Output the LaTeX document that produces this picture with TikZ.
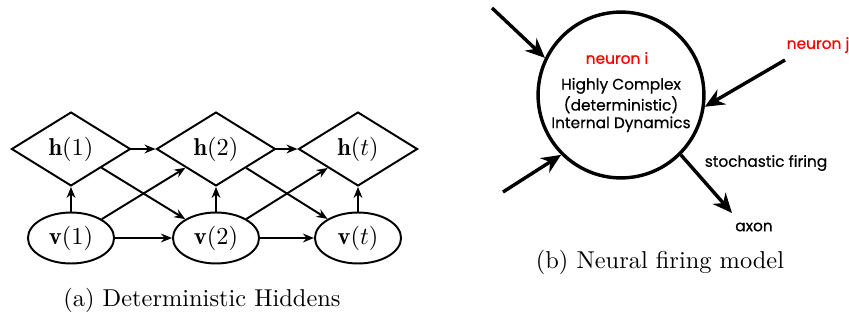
\documentclass[tikz,border=0pt]{standalone}
\usepackage{fontspec}
\newfontfamily\gothic[FakeBold=0.5]{Poppins}
\usetikzlibrary{shapes.geometric,arrows.meta}

\begin{document}
\begin{tikzpicture}[x=0.41pt,y=-0.41pt,
    hid/.style={diamond, draw, thick, inner sep=0pt, minimum width=48.8pt, minimum height=30.3pt},
    vis/.style={ellipse, draw, thick, inner sep=0pt, minimum width=35.3pt, minimum height=20.9pt},
    link/.style={-{Stealth[length=4.5pt,width=3.6pt]}, thick},
    fire/.style={-{Stealth[length=8pt,width=7pt]}, line width=1.4pt},
    lbl/.style={font=\gothic\fontsize{6.3}{7.2}\selectfont, align=center, inner sep=0pt}
]
\useasboundingbox (0,0) rectangle (849,320);

% (a) deterministic hiddens
\node[hid] (h1) at (71,149) {$\mathbf{h}(1)$};
\node[hid] (h2) at (216,149) {$\mathbf{h}(2)$};
\node[hid] (ht) at (358,149) {$\mathbf{h}(t)$};
\node[vis] (v1) at (71,238) {$\mathbf{v}(1)$};
\node[vis] (v2) at (216,238) {$\mathbf{v}(2)$};
\node[vis] (vt) at (358,238) {$\mathbf{v}(t)$};

\foreach \a/\b in {v1/v2, v2/vt, h1/h2, h2/ht, v1/h1, v2/h2, vt/ht, v1/h2, h1/v2, v2/ht, h2/vt}
  \draw[link] (\a) -- (\b);

\node (capa) at (202,300) {(a) Deterministic Hiddens};

% (b) neural firing model
\node[circle, draw, line width=1.4pt, minimum size=68pt, inner sep=0pt] (neuron) at (621,95) {};
\node[lbl, text=red] (ni) at (617,58) {neuron i};
\node[lbl] (dyn) at (621,105) {Highly Complex\\(deterministic)\\Internal Dynamics};
\node[lbl, text=red] (nj) at (818,45) {neuron j};
\node[lbl] (stoch) at (766,163) {stochastic firing};
\node[lbl] (axon) at (754,227) {axon};

\coordinate (in1) at (492,8);
\coordinate (in2) at (503,192);
\coordinate (inj) at (785,60);
\coordinate (out) at (732,213);
\draw[fire] (in1) -- (neuron.154);
\draw[fire] (in2) -- (neuron.225);
\draw[fire] (inj) -- (neuron.-8);
\draw[fire] (neuron.-45) -- (out);

\node (capb) at (660,262) {(b) Neural firing model};
\end{tikzpicture}
\end{document}
